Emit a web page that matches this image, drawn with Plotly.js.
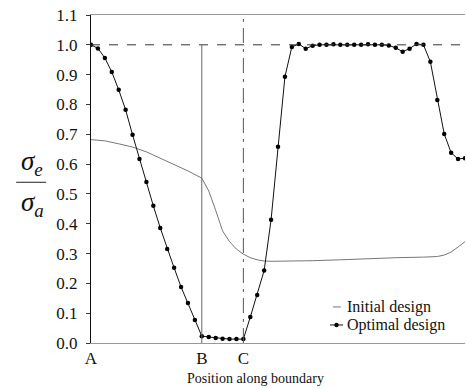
<!DOCTYPE html>
<html>
<head>
<meta charset="utf-8">
<script src="https://cdn.plot.ly/plotly-3.0.1.min.js"></script>
<style>html,body{margin:0;padding:0;background:#fff;}#chart{width:467px;height:389px;}</style>
</head>
<body>
<div id="chart"></div>
<script>
// Boundary node positions (A = 0, B = 16, C = 22, D = 54)
const pointLabels = ['A', 'B', 'C', 'D'];
const pointPos = [0, 16, 22, 54];

// Optimal design (markers at every boundary node)
const optX = [0,1,2,3,4,5,6,7,8,9,10,11,12,13,14,15,16,17,18,19,20,21,22,23,24,25,26,27,28,29,30,31,32,33,34,35,36,37,38,39,40,41,42,43,44,45,46,47,48,49,50,51,52,53,54];
const optY = [1.0,0.988,0.956,0.909,0.849,0.782,0.698,0.617,0.540,0.460,0.386,0.315,0.252,0.188,0.134,0.077,0.023,0.020,0.017,0.014,0.013,0.013,0.013,0.087,0.161,0.243,0.413,0.658,0.893,0.993,1.003,0.987,0.997,1.0,1.0,1.002,1.0,1.0,1.0,1.0,1.002,1.0,1.0,0.998,0.99,0.977,0.987,1.003,1.0,0.943,0.815,0.701,0.638,0.617,0.62];

// Initial design
const initX = [0,2,4,6,8,10,12,14,16,17,18,19,20,21,22,23,24,25,26,28,32,36,40,44,48,50,51,52,53,54];
const initY = [0.682,0.678,0.668,0.657,0.641,0.620,0.598,0.577,0.553,0.510,0.445,0.376,0.340,0.315,0.298,0.286,0.279,0.275,0.274,0.274,0.276,0.279,0.283,0.286,0.288,0.290,0.295,0.305,0.322,0.340];

const yTicks = [0,0.1,0.2,0.3,0.4,0.5,0.6,0.7,0.8,0.9,1.0,1.1];
const seriesNames = ['Initial design', 'Optimal design'];

const serif = 'Liberation Serif';
const initColor = '#777', optColor = '#111';

const traces = [
  {x: initX, y: initY, type: 'scatter', mode: 'lines', name: seriesNames[0],
   line: {color: initColor, width: 1}},
  {x: optX, y: optY, type: 'scatter', mode: 'lines+markers', name: seriesNames[1],
   line: {color: optColor, width: 1}, marker: {color: '#000', size: 4.5}}
];

// hand-placed compact legend (paper coordinates)
const legX = 0.679, legY = [0.11, 0.055];

const layout = {
  width: 467, height: 389,
  margin: {l: 91, r: 2, t: 15, b: 46},
  paper_bgcolor: '#fff', plot_bgcolor: '#fff',
  font: {family: serif, color: '#111', size: 14},
  showlegend: false,
  xaxis: {range: [0, 54], tickvals: pointPos, ticktext: pointLabels, ticks: '',
          showgrid: false, zeroline: false, showline: true, linecolor: '#999', linewidth: 1,
          mirror: true, tickfont: {family: serif, size: 17, color: '#111'}},
  yaxis: {range: [0, 1.1], tickvals: yTicks, tickformat: '.1f', ticks: 'outside', ticklen: 4,
          ticklabelstandoff: 5,
          tickcolor: '#333', showgrid: false, zeroline: false, showline: true, linecolor: '#111',
          linewidth: 1, tickfont: {family: serif, size: 17, color: '#111'}},
  shapes: [
    {type: 'line', xref: 'x', yref: 'y', x0: 0, x1: 54, y0: 1.0, y1: 1.0,
     line: {color: '#333', width: 1, dash: 'dash'}},
    {type: 'line', xref: 'x', yref: 'y', x0: pointPos[1], x1: pointPos[1], y0: 0, y1: 1.0,
     line: {color: '#666', width: 1}},
    {type: 'line', xref: 'x', yref: 'y', x0: pointPos[2], x1: pointPos[2], y0: 0, y1: 1.1,
     line: {color: '#555', width: 1, dash: 'longdashdot'}},
    {type: 'line', xref: 'paper', yref: 'paper', x0: -0.2, x1: -0.12, y0: 0.49, y1: 0.49,
     line: {color: '#222', width: 1}},
    // legend symbols
    {type: 'line', xref: 'paper', yref: 'paper', x0: legX - 0.032, x1: legX - 0.011, y0: legY[0], y1: legY[0],
     line: {color: initColor, width: 1}},
    {type: 'line', xref: 'paper', yref: 'paper', x0: legX - 0.040, x1: legX - 0.005, y0: legY[1], y1: legY[1],
     line: {color: optColor, width: 1}},
    {type: 'circle', xref: 'paper', yref: 'paper', xsizemode: 'pixel', ysizemode: 'pixel',
     xanchor: legX - 0.0225, yanchor: legY[1], x0: -2.2, x1: 2.2, y0: -2.2, y1: 2.2,
     fillcolor: '#000', line: {width: 0}}
  ],
  annotations: [
    {xref: 'paper', yref: 'paper', x: 0.44, y: -0.107, yanchor: 'middle', showarrow: false,
     text: 'Position along boundary', font: {family: serif, size: 14, color: '#111'}},
    {xref: 'paper', yref: 'paper', x: -0.192, y: 0.55, showarrow: false,
     text: '<i>σ</i><sub><i>e</i></sub>', font: {family: serif, size: 27, color: '#111'}},
    {xref: 'paper', yref: 'paper', x: -0.192, y: 0.425, showarrow: false,
     text: '<i>σ</i><sub><i>a</i></sub>', font: {family: serif, size: 27, color: '#111'}},
    {xref: 'paper', yref: 'paper', x: legX, y: legY[0], xanchor: 'left', yanchor: 'middle',
     showarrow: false, text: seriesNames[0], font: {family: serif, size: 16, color: '#111'}},
    {xref: 'paper', yref: 'paper', x: legX, y: legY[1], xanchor: 'left', yanchor: 'middle',
     showarrow: false, text: seriesNames[1], font: {family: serif, size: 16, color: '#111'}}
  ]
};

Plotly.newPlot('chart', traces, layout, {displayModeBar: false, staticPlot: true});
</script>
</body>
</html>
